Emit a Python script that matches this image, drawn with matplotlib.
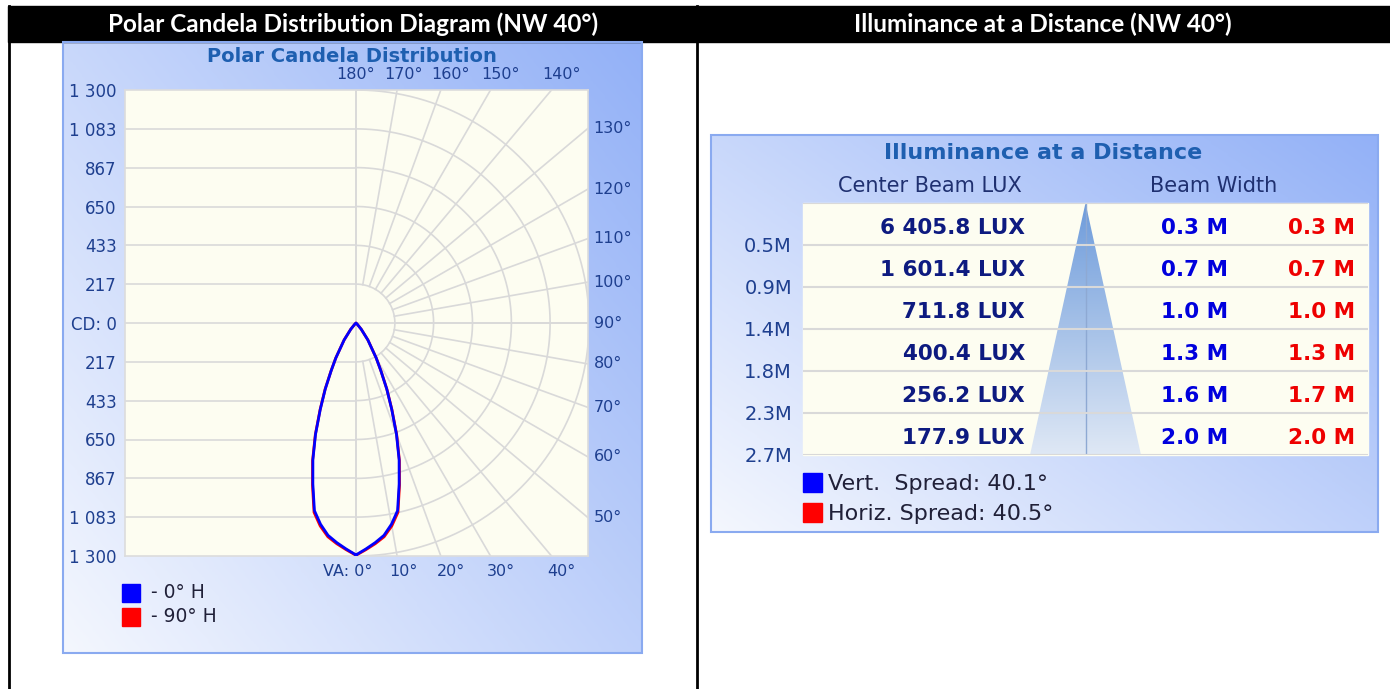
import numpy as np
import matplotlib
matplotlib.use("Agg")
import matplotlib.pyplot as plt
from matplotlib.colors import LinearSegmentedColormap
from matplotlib.patches import Rectangle, Polygon

W, H = 1390, 689

# ---- polar candela data (vertical angle in deg, candela) ----
va_angles = [0, 2.5, 5, 7.5, 10, 12.5, 15, 17.5, 20, 22.5, 25, 27.5, 30, 35, 40, 45, 50, 60, 90, 180]
cd_0h = [1294, 1262, 1230, 1195, 1140, 1072, 930, 800, 660, 520, 405, 300, 225, 115, 45, 10, 0, 0, 0, 0]
cd_90h = [1296, 1266, 1236, 1203, 1150, 1082, 938, 806, 664, 524, 408, 302, 226, 116, 46, 10, 0, 0, 0, 0]
cd_rings = [217, 433, 650, 867, 1083, 1300]
grid_angles = np.arange(0, 181, 10)

# ---- illuminance table ----
distances = [0.5, 0.9, 1.4, 1.8, 2.3, 2.7]
center_lux = [6405.8, 1601.4, 711.8, 400.4, 256.2, 177.9]
beam_vert = [0.3, 0.7, 1.0, 1.3, 1.6, 2.0]
beam_horiz = [0.3, 0.7, 1.0, 1.3, 1.7, 2.0]
spread_vert = 40.1
spread_horiz = 40.5

TITLE_BLUE = "#1e5fb0"
LABEL_BLUE = "#1e3f8f"
GRID = "#d9d9d9"
IVORY = "#fdfdf1"

fig = plt.figure(figsize=(W / 100, H / 100), dpi=100)
bg = fig.add_axes([0, 0, 1, 1])
bg.set_xlim(0, W)
bg.set_ylim(H, 0)
bg.axis("off")


def px_axes(x0, y0, x1, y1, **kw):
    return fig.add_axes([x0 / W, 1 - y1 / H, (x1 - x0) / W, (y1 - y0) / H], **kw)


box_cmap = LinearSegmentedColormap.from_list("box", ["#f4f7fe", "#93b1f7"])


def grad_box(x0, y0, x1, y1):
    X, Y = np.meshgrid(np.linspace(0, 1, 200), np.linspace(0, 1, 200))
    t = 0.55 * X + 0.45 * (1 - Y)
    bg.imshow(t, extent=[x0, x1, y1, y0], cmap=box_cmap, vmin=0, vmax=1,
              aspect="auto", zorder=1, interpolation="bilinear")
    bg.add_patch(Rectangle((x0, y0), x1 - x0, y1 - y0, fill=False,
                           ec="#8aaaf0", lw=1.5, zorder=3))


# header bar and frame
bg.add_patch(Rectangle((8, 6), W - 8, 36, color="black", zorder=2))
bg.plot([9, 9], [6, H], color="black", lw=2, zorder=2)
bg.plot([697, 697], [6, H], color="black", lw=2, zorder=2)
bg.text(353, 24, "Polar Candela Distribution Diagram (NW 40°)", color="white",
        fontsize=17.5, fontweight="bold", family="Lato", ha="center", va="center", zorder=4)
bg.text(1043, 24, "Illuminance at a Distance (NW 40°)", color="white",
        fontsize=17.5, fontweight="bold", family="Lato", ha="center", va="center", zorder=4)

# -----------------------------
# LEFT: polar candela chart
# -----------------------------
grad_box(63, 42, 642, 653)
bg.text(352, 57, "Polar Candela Distribution", color=TITLE_BLUE, fontsize=14,
        fontweight="bold", ha="center", va="center", zorder=4)

cmax = cd_rings[-1]
cx, cy, rad = 356, 323, 233.0
xl = ((125 - cx) / rad * cmax, (588 - cx) / rad * cmax)
yl = (-(556 - cy) / rad * cmax, (cy - 90) / rad * cmax)
ax = px_axes(125, 90, 588, 556)
ax.set_facecolor(IVORY)
ax.set_xlim(*xl)
ax.set_ylim(*yl)
for s in ax.spines.values():
    s.set_color("#dcdcdc")
    s.set_linewidth(1.2)
ax.set_xticks([])
yt = [r for r in cd_rings[::-1]] + [0] + [-r for r in cd_rings]
ylab = [f"{r:,}".replace(",", " ") for r in cd_rings[::-1]] + ["CD: 0"] + \
       [f"{r:,}".replace(",", " ") for r in cd_rings]
ax.set_yticks(yt)
ax.set_yticklabels(ylab)
ax.tick_params(axis="y", length=0, pad=6, labelsize=12, labelcolor=LABEL_BLUE)

# grid: left half horizontal lines, right half arcs, radial lines
for r in cd_rings[:-1]:
    ax.plot([xl[0], 0], [r, r], color=GRID, lw=1.2, zorder=1)
    ax.plot([xl[0], 0], [-r, -r], color=GRID, lw=1.2, zorder=1)
th = np.radians(np.linspace(0, 180, 200))
for r in cd_rings:
    ax.plot(r * np.sin(th), -r * np.cos(th), color=GRID, lw=1.2, zorder=1)
ax.plot([xl[0], xl[1]], [0, 0], color=GRID, lw=1.2, zorder=1)
ax.plot([0, 0], [yl[0], yl[1]], color=GRID, lw=1.2, zorder=1)
for a in grid_angles:
    t = np.radians(a)
    ax.plot([cd_rings[0] * np.sin(t), 3000 * np.sin(t)],
            [-cd_rings[0] * np.cos(t), -3000 * np.cos(t)], color=GRID, lw=1.2, zorder=1)

# angle labels where each radial line meets the frame
for a in grid_angles:
    t = np.radians(a)
    dev = min(a, 180 - a)
    shift = min(10, 35 * np.sin(np.radians(dev)))
    if a >= 140:
        x = yl[1] * np.tan(np.pi - t)
        ax.annotate(f"{a}°", (x, yl[1]), xytext=(shift * 0.72, 6), textcoords="offset points",
                    ha="center", va="bottom", fontsize=11.5, color=LABEL_BLUE, annotation_clip=False)
    elif a <= 40:
        x = -yl[0] * np.tan(t)
        txt = "VA: 0°" if a == 0 else f"{a}°"
        ha = "right" if a == 0 else "center"
        off = 16 if a == 0 else shift
        ax.annotate(txt, (x, yl[0]), xytext=(off * 0.72, -6), textcoords="offset points",
                    ha=ha, va="top", fontsize=11.5, color=LABEL_BLUE, annotation_clip=False)
    else:
        y = -xl[1] / np.tan(t) if a != 90 else 0
        ax.annotate(f"{a}°", (xl[1], y), xytext=(4, 0), textcoords="offset points",
                    ha="left", va="center", fontsize=11.5, color=LABEL_BLUE, annotation_clip=False)


def candela_outline(angles, cds):
    t = np.radians(angles)
    r = np.array(cds, dtype=float)
    xr, yr = r * np.sin(t), -r * np.cos(t)
    return np.r_[xr, -xr[::-1]], np.r_[yr, yr[::-1]]


xs, ys = candela_outline(va_angles, cd_90h)
ax.plot(xs, ys, color="#ff0000", lw=2, zorder=3)
xs, ys = candela_outline(va_angles, cd_0h)
ax.plot(xs, ys, color="#0000ff", lw=2, zorder=4)

# legend
bg.add_patch(Rectangle((122, 584), 18, 18, color="#0000ff", zorder=4))
bg.add_patch(Rectangle((122, 608), 18, 18, color="#ff0000", zorder=4))
bg.text(151, 593, "- 0° H", fontsize=13.5, color="#202038", va="center", zorder=4)
bg.text(151, 617, "- 90° H", fontsize=13.5, color="#202038", va="center", zorder=4)

# -----------------------------
# RIGHT: illuminance at a distance
# -----------------------------
grad_box(711, 135, 1378, 532)
bg.text(1043, 153, "Illuminance at a Distance", color=TITLE_BLUE, fontsize=16,
        fontweight="bold", ha="center", va="center", zorder=4)
bg.text(930, 186, "Center Beam LUX", color="#1f3070", fontsize=15, ha="center", va="center", zorder=4)
bg.text(1214, 186, "Beam Width", color="#1f3070", fontsize=15, ha="center", va="center", zorder=4)
bg.add_patch(Rectangle((803, 203), 565, 252, color=IVORY, zorder=2))

n = len(distances)
# light cone, width from the vertical spread
half = distances[-1] * np.tan(np.radians(spread_vert / 2))
axc = px_axes(1085.5 - 55.5, 203, 1085.5 + 55.5, 455)
axc.set_xlim(-half, half)
axc.set_ylim(distances[-1], 0)
axc.axis("off")
axc.patch.set_alpha(0)
cone_cmap = LinearSegmentedColormap.from_list("cone", ["#6d9bdb", "#dfe8f5"])
img = axc.imshow(np.linspace(0, 1, 256).reshape(-1, 1), cmap=cone_cmap, aspect="auto",
                 extent=[-half, half, distances[-1], 0], interpolation="bilinear")
tri = Polygon([[0, 0], [half, distances[-1]], [-half, distances[-1]]], closed=True,
              transform=axc.transData, fill=False, lw=0)
axc.add_patch(tri)
img.set_clip_path(tri)
axc.plot([0, 0], [0, distances[-1]], color="#8ea9d3", lw=1)

axt = px_axes(803, 203, 1368, 455)
axt.patch.set_alpha(0)
axt.set_xlim(0, 1)
axt.set_ylim(n, 0)
for s in axt.spines.values():
    s.set_visible(False)
axt.set_xticks([])
axt.set_yticks(np.arange(1, n + 1))
axt.set_yticklabels([f"{d}M" for d in distances])
axt.tick_params(axis="y", length=0, pad=8, labelsize=14, labelcolor=LABEL_BLUE)
for i in range(n + 1):
    axt.axhline(i, color=GRID, lw=1.5)
for i in range(n):
    axt.text(0.393, i + 0.6, f"{center_lux[i]:,.1f}".replace(",", " ") + " LUX",
             ha="right", va="center", fontsize=15.5, fontweight="bold", color="#0d1a80")
    axt.text(0.752, i + 0.6, f"{beam_vert[i]:.1f} M", ha="right", va="center",
             fontsize=15.5, fontweight="bold", color="#0000dd")
    axt.text(0.977, i + 0.6, f"{beam_horiz[i]:.1f} M", ha="right", va="center",
             fontsize=15.5, fontweight="bold", color="#ee0000")

bg.add_patch(Rectangle((803, 473), 19, 19, color="#0000ff", zorder=4))
bg.add_patch(Rectangle((803, 503), 19, 19, color="#ff0000", zorder=4))
bg.text(828, 484, f"Vert.  Spread: {spread_vert}°", fontsize=16, color="#202038",
        va="center", zorder=4)
bg.text(828, 514, f"Horiz. Spread: {spread_horiz}°", fontsize=16, color="#202038",
        va="center", zorder=4)

fig.savefig("out.png", dpi=100)
